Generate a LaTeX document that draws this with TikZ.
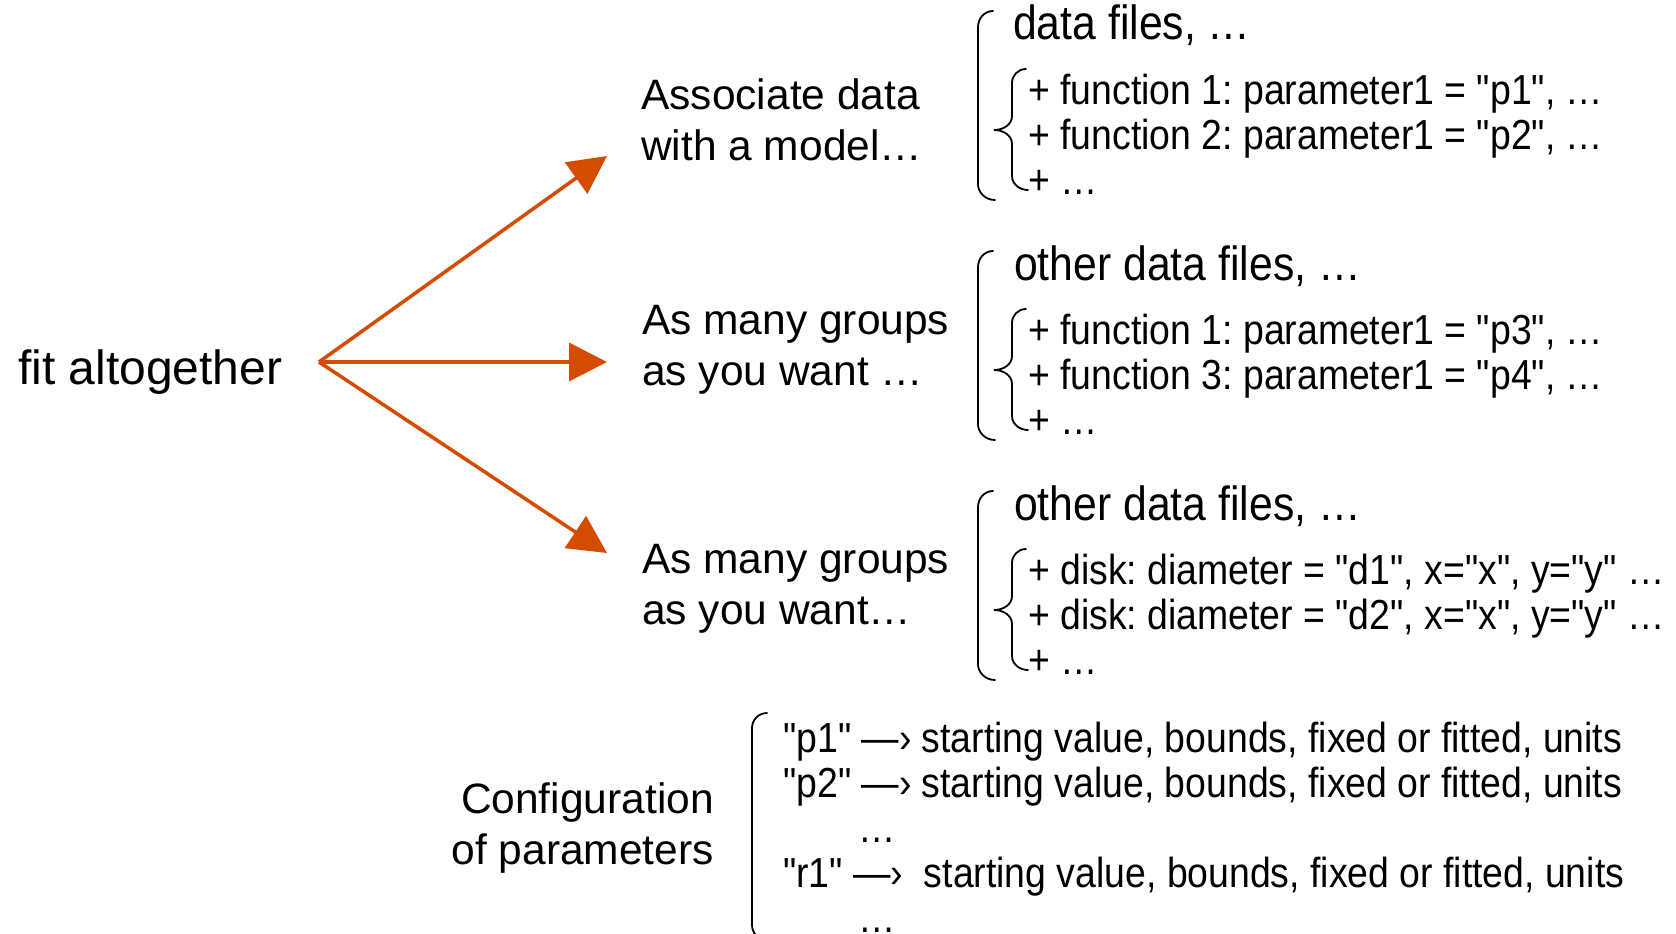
\documentclass[tikz,border=0pt]{standalone}
\usepackage{fontspec}
\setmainfont{Liberation Sans}[Ligatures=TeXOff]
\newfontfamily\condfont{Liberation Sans}[Ligatures=TeXOff,FakeStretch=0.89]
\usetikzlibrary{positioning,arrows.meta}
\definecolor{fitorange}{RGB}{213,75,0}
\frenchspacing

\begin{document}
\begin{tikzpicture}[x=1pt,y=1pt,
    lbl/.style={inner sep=0pt,align=left,font={\fontsize{42.5}{51}\selectfont}},
    head/.style={inner sep=0pt,anchor=base west,font={\condfont\fontsize{48}{54}\selectfont}},
    item/.style={inner sep=0pt,anchor=base west,align=left,font={\condfont\fontsize{42}{45}\selectfont}},
    brk/.style={line width=1.8pt,line cap=round},
    arr/.style={-{Triangle[length=38pt,width=38pt]},line width=3.5pt,color=fitorange}
  ]
    \useasboundingbox (0,0) rectangle (1676,-934);

    \node[lbl,anchor=base west,font={\fontsize{48}{54}\selectfont}] (fit) at (18,-384) {fit altogether};
    \coordinate (fork) at (319,-362);
    \coordinate (tipA) at (607,-156);
    \coordinate (tipB) at (607,-362);
    \coordinate (tipC) at (607,-553);
    \draw[arr] (fork) -- (tipA);
    \draw[arr] (fork) -- (tipB);
    \draw[arr] (fork) -- (tipC);

    % base of a two-line node = baseline of its last line
    \node[lbl,anchor=base west] (assoc) at (641,-160) {Associate data\\with a model…};
    \node[lbl,anchor=base west] (groupsA) at (642,-385) {As many groups\\as you want …};
    \node[lbl,anchor=base west] (groupsB) at (642,-624) {As many groups\\as you want…};
    \node[lbl,anchor=base east,align=right] (config) at (714,-864) {Configuration\\of parameters};

    % groups of data files
    \node[head] (filesA) at (1013,-40) {data files, …};
    \node[item] (funA) at (1028,-194) {+ function 1: parameter1 = "p1", …\\+ function 2: parameter1 = "p2", …\\+ …};
    \node[head] (filesB) at (1014,-280) {other data files, …};
    \node[item] (funB) at (1028,-434) {+ function 1: parameter1 = "p3", …\\+ function 3: parameter1 = "p4", …\\+ …};
    \node[head] (filesC) at (1014,-520) {other data files, …};
    \node[item] (diskC) at (1028,-674) {+ disk: diameter = "d1", x="x", y="y" …\\+ disk: diameter = "d2", x="x", y="y" …\\+ …};

    \foreach \dy in {0,240,480} {
      \draw[brk] (993,{-11-\dy}) to[out=180,in=90] (978,{-27-\dy}) -- (978,{-184-\dy})
        to[out=270,in=180] (995,{-200-\dy});
      \draw[brk] (1026,{-69-\dy}) to[out=180,in=90] (1012,{-83-\dy}) -- (1012,{-116-\dy})
        to[out=270,in=0] (994,{-130-\dy}) to[out=0,in=90] (1012,{-144-\dy})
        -- (1012,{-176-\dy}) to[out=270,in=180] (1028,{-190-\dy});
    }

    % parameters
    \node[item] (params) at (783,-932) {"p1" —› starting value, bounds, fixed or fitted, units\\"p2" —› starting value, bounds, fixed or fitted, units\\\hspace{75pt}…\\"r1" —›\ \ starting value, bounds, fixed or fitted, units\\\hspace{75pt}…};
    \draw[brk] (767,-713) to[out=180,in=90] (752,-728) -- (752,-925) to[out=270,in=180] (767,-940);
  \end{tikzpicture}
\end{document}
